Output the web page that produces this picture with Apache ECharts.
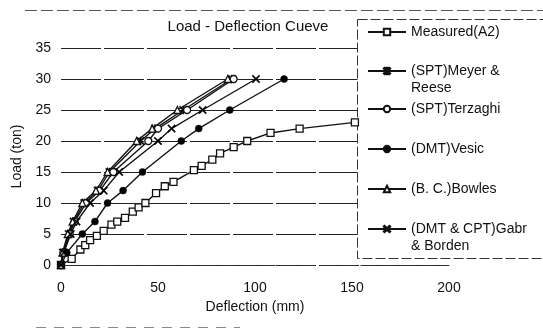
<!DOCTYPE html>
<html>
<head>
<meta charset="utf-8">
<script src="https://cdn.jsdelivr.net/npm/echarts@6/dist/echarts.min.js"></script>
<style>
  html, body { margin: 0; padding: 0; background: #fff; }
  #chart { width: 543px; height: 336px; }
</style>
</head>
<body>
<div id="chart"></div>
<script>
// deflection (mm), load (ton)
const measured = [[0, 0], [5.5, 1], [10, 2.5], [12.5, 3.2], [15, 4], [18.5, 4.7], [22, 5.5], [26, 6.5], [29, 7], [33, 7.6], [37, 8.6], [40, 9.3], [43.5, 10], [49, 11.6], [53.5, 12.7], [58, 13.4], [68.5, 15.3], [72.5, 16], [78, 17], [82, 18], [89, 19], [96, 20], [108, 21.3], [123, 22], [151.5, 23]];
const meyerReese = [[0, 0], [1, 2], [4, 5], [6.5, 7], [12, 10], [19, 12], [25, 15], [41, 20], [48.5, 22], [63, 25], [88, 30]];
const terzaghi = [[0, 0], [1.2, 2], [4.5, 5], [7, 7], [13, 10], [20, 12], [27, 15], [45, 20], [50, 22], [65, 25], [89, 30]];
const vesic = [[0, 0], [3, 2], [11, 5], [17.5, 7], [24, 10], [32, 12], [42, 15], [62, 20], [71, 22], [87, 25], [115, 30]];
const bowles = [[0, 0], [0.8, 2], [3.5, 5], [6, 7], [11, 10], [18, 12], [24, 15], [39, 20], [47, 22], [60, 25], [86, 30]];
const gabrBorden = [[0, 0], [1.5, 2], [5, 5], [8, 7], [15, 10], [22, 12], [30, 15], [50, 20], [57, 22], [73, 25], [100.5, 30]];

const seriesNames = ["Measured(A2)", "(SPT)Meyer & Reese", "(SPT)Terzaghi", "(DMT)Vesic", "(B. C.)Bowles", "(DMT & CPT)Gabr & Borden"];
const legendLines = [["Measured(A2)"], ["(SPT)Meyer &", "Reese"], ["(SPT)Terzaghi"], ["(DMT)Vesic"], ["(B. C.)Bowles"], ["(DMT & CPT)Gabr", "& Borden"]];
const xTicks = { min: 0, max: 200, interval: 50 };
const yTicks = { min: 0, max: 35, interval: 5 };

const FONT = "Liberation Sans, Arial, sans-serif";
const CROSS = "path://M0,1.2 L1.2,0 L5,3.8 L8.8,0 L10,1.2 L6.2,5 L10,8.8 L8.8,10 L5,6.2 L1.2,10 L0,8.8 L3.8,5 Z";
const STAR = "path://M0,1.2 L1.2,0 L5,3.8 L8.8,0 L10,1.2 L6.2,5 L10,8.8 L8.8,10 L5,6.2 L1.2,10 L0,8.8 L3.8,5 Z M4.2,0 L5.8,0 L5.8,10 L4.2,10 Z";

const styles = [
  { symbol: "rect", size: 7, fill: "#fff" },
  { symbol: STAR, size: 8, fill: "#000" },
  { symbol: "circle", size: 7, fill: "#fff" },
  { symbol: "circle", size: 7, fill: "#000" },
  { symbol: "triangle", size: 7, fill: "#fff" },
  { symbol: CROSS, size: 8, fill: "#000" }
];
const dataSets = [measured, meyerReese, terzaghi, vesic, bowles, gabrBorden];
// y of each legend icon
const legendIconY = [32, 71, 109, 149, 189, 229];

const chart = echarts.init(document.getElementById("chart"), null, { renderer: "canvas" });

const series = seriesNames.map((name, i) => ({
  name,
  type: "line",
  data: dataSets[i],
  symbol: styles[i].symbol,
  symbolSize: styles[i].size,
  showSymbol: true,
  lineStyle: { color: "#111", width: 1.4 },
  itemStyle: {
    color: styles[i].fill,
    borderColor: "#111",
    borderWidth: styles[i].fill === "#fff" ? 1.3 : 0.5
  },
  animation: false
}));

// two-line labels get an empty first line so the icon sits on the first text line
const legends = seriesNames.map((name, i) => {
  const twoLine = legendLines[i].length > 1;
  const label = twoLine ? "\n" + legendLines[i].join("\n") : legendLines[i][0];
  return {
    data: [name],
    left: 362,
    top: legendIconY[i] - (twoLine ? 30.5 : 13.5),
    itemWidth: 38,
    itemHeight: 8,
    formatter: () => label,
    textStyle: { color: "#111", fontFamily: FONT, fontSize: 14, lineHeight: 17 },
    selectedMode: false
  };
});

chart.setOption({
  backgroundColor: "#fff",
  animation: false,
  title: {
    text: "Load - Deflection Cueve",
    left: 243,
    top: 14,
    textAlign: "center",
    textStyle: { color: "#111", fontFamily: FONT, fontSize: 15, fontWeight: "normal" }
  },
  grid: { left: 61, right: 94, top: 48, bottom: 71, containLabel: false },
  xAxis: {
    type: "value",
    min: xTicks.min,
    max: xTicks.max,
    interval: xTicks.interval,
    name: "Deflection (mm)",
    nameLocation: "middle",
    nameGap: 30,
    nameTextStyle: { color: "#111", fontFamily: FONT, fontSize: 14 },
    axisLine: { show: true, lineStyle: { color: "#333", width: 1, type: [14, 6] } },
    axisTick: { show: false },
    axisLabel: { color: "#111", fontFamily: FONT, fontSize: 14, margin: 16 },
    splitLine: { show: false }
  },
  yAxis: {
    type: "value",
    min: yTicks.min,
    max: yTicks.max,
    interval: yTicks.interval,
    name: "Load (ton)",
    nameLocation: "middle",
    nameGap: 36,
    nameTextStyle: { color: "#111", fontFamily: FONT, fontSize: 14 },
    axisLine: { show: false },
    axisTick: { show: false },
    axisLabel: { color: "#111", fontFamily: FONT, fontSize: 14, margin: 10 },
    splitLine: { show: true, lineStyle: { color: "#222", width: 1, type: [40, 3] } }
  },
  legend: legends,
  graphic: [
    {
      type: "rect",
      z: 3,
      shape: { x: 357.5, y: 19.5, width: 200, height: 239 },
      style: { fill: "#fff", stroke: "#333", lineWidth: 1, lineDash: [10, 3] }
    },
    {
      type: "line",
      z: 3,
      shape: { x1: 25, y1: 10.5, x2: 543, y2: 10.5 },
      style: { stroke: "#555", lineWidth: 1, lineDash: [12, 4] }
    },
    {
      type: "line",
      z: 3,
      shape: { x1: 36, y1: 327.5, x2: 240, y2: 327.5 },
      style: { stroke: "#888", lineWidth: 1, lineDash: [10, 8] }
    }
  ],
  series
});
</script>
</body>
</html>
